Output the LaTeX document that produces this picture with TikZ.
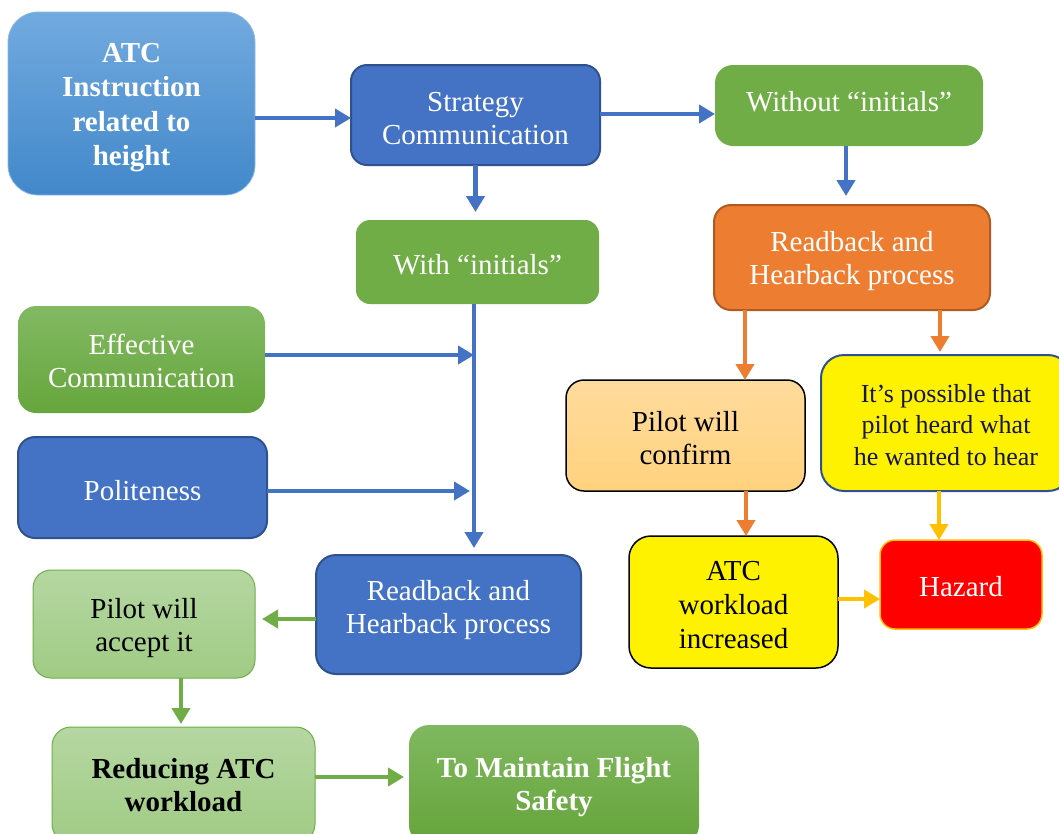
\documentclass[tikz,border=0pt]{standalone}
\usepackage{fontspec}
\setmainfont{Liberation Serif}
\usetikzlibrary{arrows.meta}

\definecolor{accblue}{HTML}{4472C4}
\definecolor{blueedge}{HTML}{2F528F}
\definecolor{accgreen}{HTML}{70AD47}
\definecolor{accorange}{HTML}{ED7D31}
\definecolor{orangeedge}{HTML}{AE5A21}
\definecolor{gold}{HTML}{FFC000}
\definecolor{navytext}{HTML}{141450}
\definecolor{lg1}{HTML}{B5D7A2}
\definecolor{lg2}{HTML}{A0CB84}

% invisible strut that lowers the text in its box
\newcommand\lowerby[1]{\rule{0pt}{#1}}

\begin{document}
\begin{tikzpicture}[x=1pt,y=-1pt,
  box/.style={align=center, inner sep=0pt, outer sep=0pt,
    font=\fontsize{29}{33}\selectfont},
  tup/.style={execute at end node={\rule[-#1]{0pt}{0pt}}},
  bluebox/.style={box, fill=accblue, draw=blueedge, line width=2pt, text=white},
  greenbox/.style={box, fill=accgreen, text=white},
  lightgreen/.style={box, top color=lg1, bottom color=lg2, draw=accgreen, line width=1pt},
  arr/.style={line width=4.5pt, -{Triangle[length=16pt,width=18pt]}}]

\useasboundingbox (0,0) rectangle (1059,833);
\clip (0,0) rectangle (1059,833);

% boxes
\node[box, minimum width=247pt, minimum height=183pt, rounded corners=30pt,
  top color={rgb,255:red,114;green,170;blue,223}, bottom color={rgb,255:red,66;green,136;blue,202},
  draw={rgb,255:red,140;green,185;blue,228}, line width=0.8pt, text=white, font=\fontsize{29}{34.5}\selectfont\bfseries]
  (atc) at (131.5,103.5) {\lowerby{27.5pt}ATC\\Instruction\\related to\\height};

\node[bluebox, minimum width=249pt, minimum height=100pt, rounded corners=16pt]
  (strat) at (475.5,115) {\lowerby{25.5pt}Strategy\\Communication};

\node[greenbox, tup=8pt, minimum width=268pt, minimum height=81pt, rounded corners=18pt]
  (without) at (849,105.5) {Without “initials”};

\node[greenbox, minimum width=243pt, minimum height=84pt, rounded corners=14pt]
  (with) at (477.5,262) {\lowerby{25.5pt}With “initials”};

\node[box, minimum width=276pt, minimum height=105pt, rounded corners=17pt,
  fill=accorange, draw=orangeedge, line width=2pt, text=white]
  (orrb) at (852,257.5) {\lowerby{27.5pt}Readback and\\Hearback process};

\node[box, minimum width=247pt, minimum height=107pt, rounded corners=18pt,
  top color={rgb,255:red,130;green,185;blue,99}, bottom color={rgb,255:red,102;green,166;blue,60}, text=white]
  (eff) at (141.5,359.5) {\lowerby{23.5pt}Effective\\Communication};

\node[bluebox, minimum width=249pt, minimum height=101pt, rounded corners=17pt]
  (polite) at (142.5,487.5) {\lowerby{25.5pt}Politeness};

\node[box, minimum width=239pt, minimum height=111pt, rounded corners=18pt,
  top color={rgb,255:red,255;green,219;blue,156}, bottom color={rgb,255:red,255;green,210;blue,126},
  draw=black, line width=1.5pt, text=black]
  (confirm) at (685.5,435.5) {\lowerby{25.5pt}Pilot will\\confirm};

\node[box, minimum width=250pt, minimum height=136pt, rounded corners=23pt,
  fill=yellow, draw=blueedge, line width=2pt, text=navytext, font=\fontsize{26}{31.5}\selectfont]
  (possible) at (946,423) {\lowerby{22pt}It’s possible that\\pilot heard what\\he wanted to hear};

\node[box, minimum width=209pt, minimum height=132pt, rounded corners=22pt,
  fill=yellow, draw=black, line width=1.5pt, text=black, font=\fontsize{29}{34}\selectfont]
  (workload) at (733.5,602) {\lowerby{25.5pt}ATC\\workload\\increased};

\node[box, minimum width=162pt, minimum height=89pt, rounded corners=15pt,
  fill=red, draw=gold, line width=1.5pt, text=white]
  (hazard) at (961,584.5) {\lowerby{23.5pt}Hazard};

\node[bluebox, tup=14.3pt, minimum width=265pt, minimum height=119pt, rounded corners=20pt]
  (bluerb) at (448.5,614.5) {Readback and\\Hearback process};

\node[lightgreen, minimum width=222pt, minimum height=108pt, rounded corners=18pt, text=black]
  (accept) at (144,624) {\lowerby{27.5pt}Pilot will\\accept it};

\node[lightgreen, minimum width=263pt, minimum height=116pt, rounded corners=19pt, text=black,
  font=\fontsize{29}{33}\selectfont\bfseries]
  (reduce) at (183.5,785) {Reducing ATC\\workload};

\node[box, minimum width=290pt, minimum height=120pt, rounded corners=20pt,
  top color={rgb,255:red,128;green,184;blue,96}, bottom color={rgb,255:red,101;green,164;blue,58},
  text=white, font=\fontsize{29}{33}\selectfont\bfseries]
  (maintain) at (554,785) {\lowerby{23.5pt}To Maintain Flight\\Safety};

% connectors
\coordinate (trunk) at (with.south -| 474,0);

\draw[arr, accblue] (atc.east |- 0,118) -- (strat.west |- 0,118);
\draw[arr, accblue] (strat.east |- 0,114) -- (without.west |- 0,114);
\draw[arr, accblue, shorten >=8pt] (strat.south) -- (strat.south |- with.north);
\draw[arr, accblue, shorten >=9pt] (without.south -| 846,0) -- (orrb.north -| 846,0);
\draw[arr, accblue, shorten >=7pt] (trunk) -- (bluerb.north -| trunk);
\draw[arr, accblue] (eff.east |- 0,355) -- (trunk |- 0,355);
\draw[arr, accblue, shorten >=4pt] (polite.east |- 0,491) -- (trunk |- 0,491);

\draw[arr, accorange] (orrb.south -| 745,0) -- (confirm.north -| 745,0);
\draw[arr, accorange, shorten >=3pt] (orrb.south -| 940,0) -- (possible.north -| 940,0);
\draw[arr, accorange] (confirm.south -| 746,0) -- (workload.north -| 746,0);

\draw[arr, gold] (possible.south -| 939,0) -- (hazard.north -| 939,0);
\draw[arr, gold] (workload.east |- 0,599) -- (hazard.west |- 0,599);

\draw[arr, accgreen, shorten >=7pt] (bluerb.west |- 0,619) -- (accept.east |- 0,619);
\draw[arr, accgreen, shorten >=3pt] (accept.south -| 181,0) -- (reduce.north -| 181,0);
\draw[arr, accgreen, shorten >=5pt] (reduce.east |- 0,777) -- (maintain.west |- 0,777);
\end{tikzpicture}
\end{document}
